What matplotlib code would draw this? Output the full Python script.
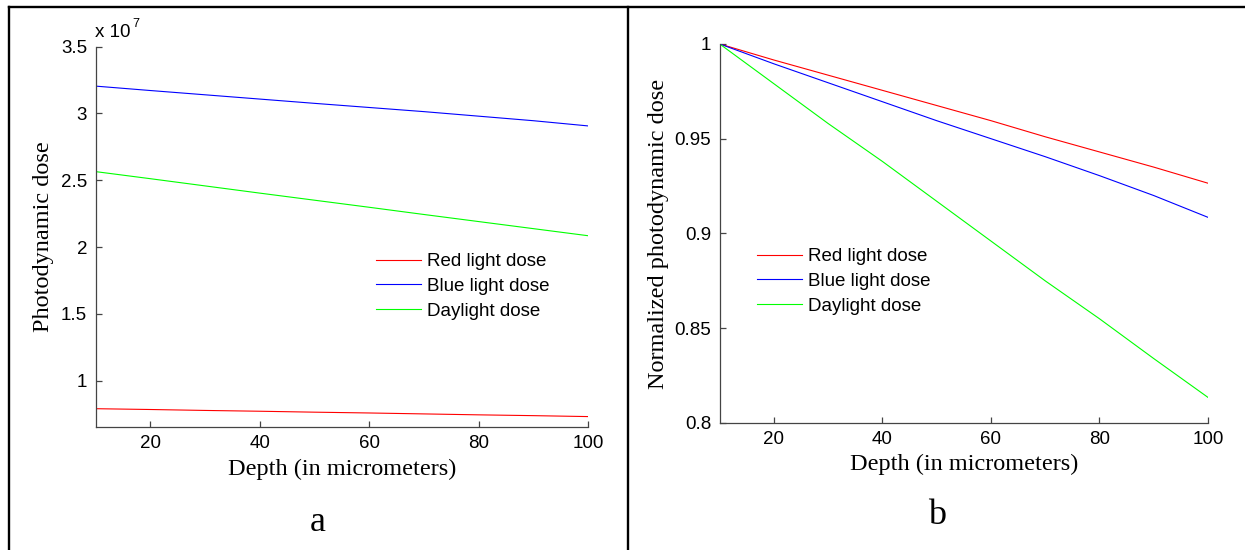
import numpy as np
import matplotlib
matplotlib.use('Agg')
import matplotlib.pyplot as plt
from matplotlib.lines import Line2D
from matplotlib.ticker import FuncFormatter

# Depth values (micrometers)
depth = [10, 20, 30, 40, 50, 60, 70, 80, 90, 100]

# Panel a: photodynamic dose (x 1e7)
red_dose = [0.790, 0.784, 0.777, 0.771, 0.764, 0.758, 0.751, 0.744, 0.738, 0.731]
blue_dose = [3.205, 3.172, 3.140, 3.108, 3.076, 3.045, 3.014, 2.980, 2.946, 2.907]
day_dose = [2.565, 2.512, 2.458, 2.404, 2.351, 2.298, 2.244, 2.191, 2.138, 2.085]

# Panel b: normalized photodynamic dose
red_norm = [1.0, 0.9915, 0.9835, 0.9755, 0.9675, 0.9595, 0.951, 0.943, 0.935, 0.9265]
blue_norm = [1.0, 0.9895, 0.9795, 0.9695, 0.9595, 0.950, 0.9405, 0.9305, 0.920, 0.9085]
day_norm = [1.0, 0.979, 0.958, 0.938, 0.917, 0.896, 0.875, 0.855, 0.834, 0.8135]

labels = ['Red light dose', 'Blue light dose', 'Daylight dose']
colors = ['#ff0000', '#0000ff', '#00ff00']

sans = 'Liberation Sans'
serif = 'Liberation Serif'
axcol = '#444444'

W, H = 1245, 550
fig = plt.figure(figsize=(W / 100, H / 100), dpi=100)


def style_axes(ax):
    for s in ['top', 'right']:
        ax.spines[s].set_visible(False)
    for s in ['left', 'bottom']:
        ax.spines[s].set_color(axcol)
        ax.spines[s].set_linewidth(0.9)
    ax.tick_params(direction='in', length=4, width=0.9, color=axcol,
                   labelsize=13.5, pad=6)
    for lab in ax.get_xticklabels() + ax.get_yticklabels():
        lab.set_fontfamily(sans)
    ax.xaxis.set_major_formatter(FuncFormatter(lambda v, p: '%g' % v))
    ax.yaxis.set_major_formatter(FuncFormatter(lambda v, p: '%g' % v))


def px_axes(x0, x1, ytop, ybot):
    return fig.add_axes([x0 / W, 1 - ybot / H, (x1 - x0) / W, (ybot - ytop) / H])


# ---- panel a ----
ax1 = px_axes(95.5, 588, 46.7, 427)
for ys, c, l in zip([red_dose, blue_dose, day_dose], colors, labels):
    ax1.plot(depth, ys, color=c, lw=0.8, label=l)
ax1.set_xlim(10, 100)
ax1.set_ylim(0.653, 3.5)
ax1.set_xticks([20, 40, 60, 80, 100])
ax1.set_yticks([1, 1.5, 2, 2.5, 3, 3.5])
style_axes(ax1)
ax1.set_xlabel('Depth (in micrometers)', fontfamily=serif, fontsize=17.5, labelpad=5)
ax1.set_ylabel('Photodynamic dose', fontfamily=serif, fontsize=17.5, labelpad=5)
ax1.legend(loc='upper left', bbox_to_anchor=(0.57, 0.457), frameon=False,
           borderpad=0, borderaxespad=0, handlelength=2.4, handletextpad=0.3,
           labelspacing=0.4, prop={'family': sans, 'size': 13.5})
fig.text(95 / W, 1 - 37 / H, 'x 10', fontfamily=sans, fontsize=13.5, va='baseline')
fig.text(132 / W, 1 - 27 / H, '7', fontfamily=sans, fontsize=9, va='baseline')
fig.text(318 / W, 1 - 531 / H, 'a', fontfamily=serif, fontsize=26, ha='center', va='baseline')

# ---- panel b ----
ax2 = px_axes(719.6, 1208, 43.9, 423)
for ys, c, l in zip([red_norm, blue_norm, day_norm], colors, labels):
    ax2.plot(depth, ys, color=c, lw=0.8, label=l)
ax2.set_xlim(10, 100)
ax2.set_ylim(0.8, 1.0)
ax2.set_xticks([20, 40, 60, 80, 100])
ax2.set_yticks([0.8, 0.85, 0.9, 0.95, 1.0])
style_axes(ax2)
ax2.set_xlabel('Depth (in micrometers)', fontfamily=serif, fontsize=17.5, labelpad=4)
ax2.set_ylabel('Normalized photodynamic dose', fontfamily=serif, fontsize=17.5, labelpad=4)
ax2.legend(loc='upper left', bbox_to_anchor=(0.077, 0.461), frameon=False,
           borderpad=0, borderaxespad=0, handlelength=2.4, handletextpad=0.3,
           labelspacing=0.4, prop={'family': sans, 'size': 13.5})
fig.text(937 / W, 1 - 524 / H, 'b', fontfamily=serif, fontsize=26, ha='center', va='baseline')

# table borders
bw = 1.7
fig.add_artist(Line2D([8.5 / W, 1], [1 - 7 / H, 1 - 7 / H], color='k', lw=bw))
fig.add_artist(Line2D([8.5 / W, 8.5 / W], [0, 1 - 7 / H], color='k', lw=bw))
fig.add_artist(Line2D([628 / W, 628 / W], [0, 1 - 7 / H], color='k', lw=bw))

fig.savefig('out.png', dpi=100)
